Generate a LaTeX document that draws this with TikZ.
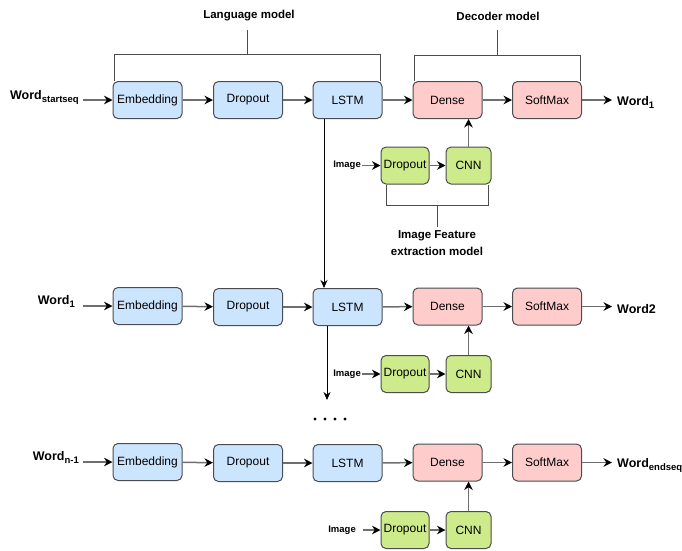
\documentclass[tikz,border=0pt]{standalone}
\usepackage{fontspec}
\setmainfont{Liberation Sans}
\usetikzlibrary{arrows.meta}

\definecolor{blueboxfill}{HTML}{CCE5FF}
\definecolor{pinkboxfill}{HTML}{FFCCCC}
\definecolor{greenboxfill}{HTML}{CDEB8B}
\definecolor{boxedge}{HTML}{4A4C50}
\definecolor{flowgrey}{HTML}{6E6E6E}

\newcommand{\wordsub}[1]{\raisebox{-3pt}{\fontsize{9.5}{11}\selectfont #1}}

\begin{document}
\begin{tikzpicture}[x=1pt,y=-1pt,font=\fontsize{12}{14}\selectfont,
    box/.style={draw=boxedge,line width=1pt,rounded corners=5pt,minimum width=69pt,minimum height=37pt,inner sep=0pt},
    bluebox/.style={box,fill=blueboxfill},
    pinkbox/.style={box,fill=pinkboxfill},
    greenbox/.style={box,fill=greenboxfill},
    flow/.style={draw=flowgrey,line width=1.5pt,-{Stealth[black,length=8.5pt,width=8.5pt]}},
    down/.style={draw=black,line width=0.8pt,-{Stealth[length=8pt,width=7pt]}},
    bracket/.style={draw=black!70,line width=1pt},
    word/.style={font=\fontsize{12.5}{14}\selectfont\bfseries,inner sep=1pt},
    imglabel/.style={font=\fontsize{9.5}{11}\selectfont\bfseries,inner sep=1pt},
    title/.style={font=\fontsize{11.5}{17}\selectfont\bfseries,align=center}]
    \useasboundingbox (0,0) rectangle (682,550);
    % first step
    \node[word,anchor=east] (in1) at (80,97) {Word\wordsub{startseq}};
    \node[bluebox] (emb1) at (147.5,100) {Embedding};
    \node[bluebox] (drop1) at (248,100) {Dropout};
    \node[bluebox] (lstm1) at (347.5,100) {LSTM};
    \node[pinkbox] (dense1) at (447.5,100) {Dense};
    \node[pinkbox] (soft1) at (547,100) {SoftMax};
    \node[word,anchor=west] (out1) at (616,102) {Word\wordsub{1}};
    \node[greenbox,minimum width=48pt] (idrop1) at (405,165.5) {Dropout};
    \node[greenbox,minimum width=45pt] (cnn1) at (468.5,165.5) {CNN};
    \node[imglabel,anchor=east] (img1) at (362,165.5) {Image};
    \draw[flow] ([xshift=3pt]in1.east |- emb1.west) -- (emb1.west);
    \draw[flow] (emb1) -- (drop1);
    \draw[flow] (drop1) -- (lstm1);
    \draw[flow] (lstm1) -- (dense1);
    \draw[flow] (dense1) -- (soft1);
    \draw[flow] (soft1.east) -- ([xshift=-4pt]out1.west |- soft1.east);
    \draw[flow] (img1) -- (idrop1);
    \draw[flow] (idrop1) -- (cnn1);
    \draw[flow] (cnn1.north) -- (cnn1.north |- dense1.south);
    % brackets
    \node[title] (langlabel) at (249,16) {Language model};
    \draw[bracket] ([xshift=2pt]emb1.north west) -- ++(0,-27) -| ([xshift=-2pt]lstm1.north east);
    \draw[bracket] (247,54) -- (247,30);
    \node[title] (declabel) at (498,16) {Decoder model};
    \draw[bracket] ([xshift=2pt]dense1.north west) -- ++(0,-26) -| ([xshift=-2pt]soft1.north east);
    \draw[bracket] (497,55) -- (497,30);
    \node[title] (featlabel) at (437,243) {Image Feature\\extraction model};
    \draw[bracket] ([xshift=6pt]idrop1.south west) -- ++(0,21) -| ([xshift=-3pt]cnn1.south east);
    \draw[bracket] (437,205) -- (featlabel.north);
    % second step
    \node[word,anchor=east] (in2) at (76,301) {Word\wordsub{1}};
    \node[bluebox] (emb2) at (147.5,306) {Embedding};
    \node[bluebox] (drop2) at (248,307) {Dropout};
    \node[bluebox] (lstm2) at (347.5,307) {LSTM};
    \node[pinkbox] (dense2) at (447.5,306.5) {Dense};
    \node[pinkbox] (soft2) at (547,306.5) {SoftMax};
    \node[word,anchor=west] (out2) at (616,309) {Word2};
    \node[greenbox,minimum width=48pt] (idrop2) at (405,374) {Dropout};
    \node[greenbox,minimum width=45pt] (cnn2) at (468.5,374) {CNN};
    \node[imglabel,anchor=east] (img2) at (362,374) {Image};
    \draw[flow] ([xshift=7pt]in2.east |- emb2.west) -- (emb2.west);
    \draw[flow] (emb2) -- (drop2);
    \draw[flow] (drop2) -- (lstm2);
    \draw[flow] (lstm2) -- (dense2);
    \draw[flow] (dense2) -- (soft2);
    \draw[flow] (soft2.east) -- ([xshift=-4pt]out2.west |- soft2.east);
    \draw[flow] (img2) -- (idrop2);
    \draw[flow] (idrop2) -- (cnn2);
    \draw[flow] (cnn2.north) -- (cnn2.north |- dense2.south);
    \draw[down] ([xshift=-23.5pt]lstm1.south) -- ([xshift=-23.5pt]lstm2.north);
    % gap
    \coordinate (gap) at (327,400);
    \draw[down] ([xshift=-20.5pt]lstm2.south) -- (gap);
    \fill (315,419) circle[radius=1.6];
    \fill (325,419) circle[radius=1.6];
    \fill (335,419) circle[radius=1.6];
    \fill (345,419) circle[radius=1.6];
    % last step
    \node[word,anchor=east] (in3) at (80,457) {Word\wordsub{n-1}};
    \node[bluebox] (emb3) at (147.5,462) {Embedding};
    \node[bluebox] (drop3) at (248,463) {Dropout};
    \node[bluebox] (lstm3) at (347.5,463) {LSTM};
    \node[pinkbox] (dense3) at (447.5,462.5) {Dense};
    \node[pinkbox] (soft3) at (547,462.5) {SoftMax};
    \node[word,anchor=west] (out3) at (616,465) {Word\wordsub{endseq}};
    \node[greenbox,minimum width=48pt] (idrop3) at (405,530) {Dropout};
    \node[greenbox,minimum width=45pt] (cnn3) at (468.5,530) {CNN};
    \node[imglabel,anchor=east] (img3) at (357,530) {Image};
    \draw[flow] ([xshift=3pt]in3.east |- emb3.west) -- (emb3.west);
    \draw[flow] (emb3) -- (drop3);
    \draw[flow] (drop3) -- (lstm3);
    \draw[flow] (lstm3) -- (dense3);
    \draw[flow] (dense3) -- (soft3);
    \draw[flow] (soft3.east) -- ([xshift=-4pt]out3.west |- soft3.east);
    \draw[flow] ([xshift=6pt]img3.east) -- (idrop3);
    \draw[flow] (idrop3) -- (cnn3);
    \draw[flow] (cnn3.north) -- (cnn3.north |- dense3.south);
\end{tikzpicture}
\end{document}
